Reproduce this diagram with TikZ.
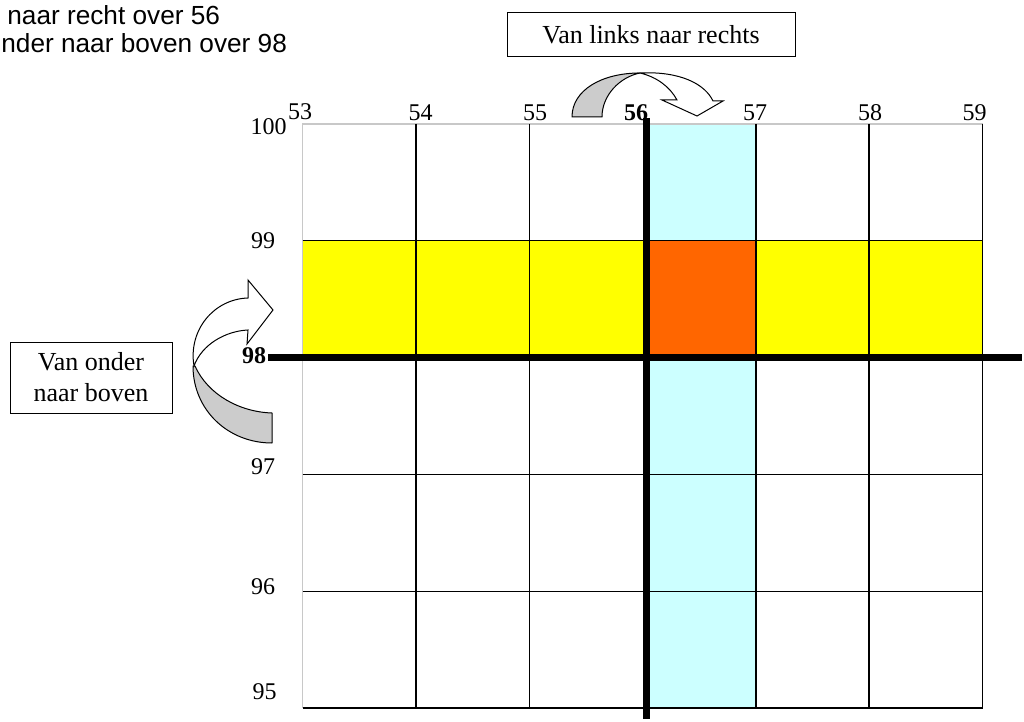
\documentclass[tikz,border=0pt]{standalone}
\usepackage{fontspec}
\setmainfont{Liberation Serif}
\newfontfamily\notefont{Liberation Sans}
\definecolor{cyanlight}{HTML}{CCFFFF}
\definecolor{yellowrow}{HTML}{FFFF00}
\definecolor{orangecell}{HTML}{FF6600}
\definecolor{arrowgray}{HTML}{CCCCCC}
\definecolor{edgegray}{HTML}{C8C8C8}
\begin{document}
\begin{tikzpicture}[x=0.5pt,y=-0.5pt,
 lbl/.style={font=\fontsize{12}{14}\selectfont, inner sep=0pt},
 boldlbl/.style={font=\fontsize{12}{14}\selectfont\bfseries, inner sep=0pt},
 boxlbl/.style={draw, line width=0.5pt, font=\fontsize{13}{15.5}\selectfont, align=center, inner sep=0pt},
 notelbl/.style={font=\notefont\fontsize{13.1}{16}\selectfont, inner sep=0pt},
 gridline/.style={line width=0.6pt, black},
 edgeline/.style={line width=0.6pt, edgegray},
 axisline/.style={line width=3.8pt, black},
 bandgray/.style={draw=black, line width=0.5pt, fill=arrowgray, line join=round},
 bandwhite/.style={draw=black, line width=0.5pt, fill=white, line join=miter},
]
\useasboundingbox (0,0) rectangle (1024,722);

% coloured cells
\fill[cyanlight] (646,124) rectangle (756,708);
\fill[yellowrow] (302.7,240.8) rectangle (982.7,357.6);
\fill[orangecell] (646,240.8) rectangle (756,357.6);

% outer light edges
\draw[edgeline] (302.7,708) -- (302.7,124) -- (982.7,124);
% grid lines
\foreach \gx in {416,529.3,756,869,982.7} \draw[gridline] (\gx,124) -- (\gx,708);
\foreach \gy in {240.8,474.4,591.2,708} \draw[gridline] (302.7,\gy) -- (982.7,\gy);

% axes
\coordinate (vtop) at (646.3,118);
\coordinate (vbot) at (646.3,719);
\coordinate (hleft) at (268,357.3);
\coordinate (hright) at (1022,357.3);
\draw[axisline] (vtop) -- (vbot);
\draw[axisline] (hleft) -- (hright);

% column labels
\node[lbl] (c53) at (300,111.5) {53};
\node[lbl] (c54) at (420.5,113) {54};
\node[lbl] (c55) at (535,113) {55};
\node[boldlbl] (c56) at (636,113) {56};
\node[lbl] (c57) at (755,113) {57};
\node[lbl] (c58) at (870,113) {58};
\node[lbl] (c59) at (974.5,113) {59};

% row labels
\node[lbl] (r100) at (268.5,127) {100};
\node[lbl] (r99) at (263,241) {99};
\node[boldlbl] (r98) at (254,356) {98};
\node[lbl] (r97) at (263,467) {97};
\node[lbl] (r96) at (263,587) {96};
\node[lbl] (r95) at (264.5,691.5) {95};

% boxes
\node[boxlbl, minimum width=144pt, minimum height=22pt] (boxlr) at (651,35) {Van links naar rechts};
\node[boxlbl, minimum width=81pt, minimum height=35.5pt] (boxob) at (91,377.5) {Van onder\\naar boven};

% notes top-left
\node[notelbl, anchor=base west] (note1) at (7,25) {naar recht over 56};
\node[notelbl, anchor=base west] (note2) at (1,53) {nder naar boven over 98};

% curved arrow left to right (top)
\draw[bandgray] (572,117) .. controls (572,90) and (602,73) .. (640,73)
   .. controls (620,77) and (602,95) .. (602,117) -- cycle;
\draw[bandwhite] (640,73) .. controls (680,71) and (705,84) .. (713,101)
   -- (723,101) -- (697,116) -- (662,100) -- (677,100)
   .. controls (670,87) and (657,77) .. (640,73) -- cycle;

% curved arrow bottom to top (left)
\draw[bandgray] (195,366) .. controls (208,395) and (240,412) .. (272,413)
   -- (272,443) .. controls (228,443) and (193,410) .. (193,366) -- cycle;
\draw[bandwhite] (194,366) .. controls (188,330) and (214,299) .. (248,298)
   -- (248,280) -- (273,310) -- (247,344) -- (248,330)
   .. controls (226,331) and (202,344) .. (194,366) -- cycle;
\end{tikzpicture}
\end{document}
